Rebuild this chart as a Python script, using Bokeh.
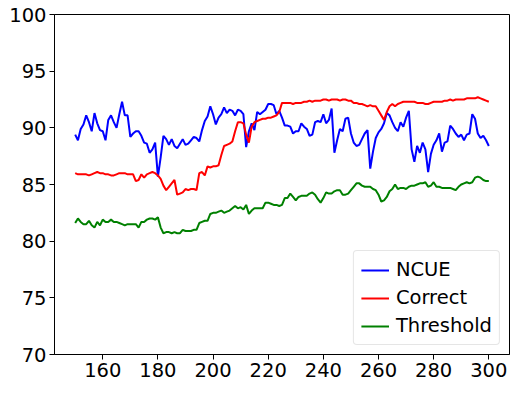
from bokeh.plotting import figure
from bokeh.models import Range1d, FixedTicker, Legend, LegendItem
from bokeh.embed import file_html
from bokeh.resources import INLINE

x_start = 150

ncue = [
    89.4, 88.9, 89.9, 90.3, 91.1, 90.5, 89.7, 91.3, 90.4, 89.8,
    89.7, 88.9, 90.7, 91.1, 90.5, 90.0, 91.2, 92.3, 91.1, 91.1,
    89.2, 89.5, 89.7, 89.7, 89.3, 88.7, 88.6, 87.8, 88.1, 88.7,
    85.7, 87.4, 89.3, 89.0, 88.5, 89.0, 88.4, 88.2, 88.6, 89.0,
    88.5, 88.6, 88.9, 89.2, 89.1, 88.8, 89.8, 90.6, 91.0, 91.9,
    91.2, 90.3, 90.9, 91.2, 91.8, 91.3, 91.6, 91.5, 91.1, 91.6,
    91.5, 91.2, 88.3, 89.7, 90.4, 89.8, 91.4, 91.2, 91.4, 91.6,
    92.1, 92.1, 92.0, 91.2, 91.5, 90.9, 90.2, 90.2, 90.1, 89.5,
    89.7, 89.7, 90.4, 90.1, 89.9, 89.3, 89.4, 90.5, 90.6, 90.5,
    91.2, 90.4, 90.7, 91.7, 87.8, 88.9, 89.9, 89.7, 90.8, 90.9,
    89.5, 88.7, 88.4, 88.5, 89.0, 89.5, 89.8, 86.4, 87.9, 89.1,
    89.6, 89.9, 90.4, 91.3, 91.1, 90.5, 90.0, 89.7, 90.5, 90.1,
    90.9, 91.5, 88.1, 87.0, 88.4, 87.8, 88.7, 88.1, 86.1, 87.7,
    88.5, 88.9, 89.5, 87.9, 88.7, 88.8, 90.2, 89.9, 89.5, 89.2,
    89.4, 88.9, 89.4, 89.5, 91.2, 90.8, 89.5, 89.1, 89.3, 88.9,
    88.4,
]

correct = [
    86.0, 85.9, 85.9, 85.9, 85.9, 85.8, 85.9, 86.0, 86.1, 86.0,
    86.0, 85.9, 85.9, 85.8, 85.8, 85.9, 86.0, 86.0, 86.0, 85.9,
    85.9, 85.9, 85.3, 85.4, 85.9, 85.6, 85.9, 86.0, 86.1, 86.0,
    85.8, 85.5, 84.9, 84.5, 84.8, 85.1, 85.4, 84.1, 84.2, 84.3,
    84.6, 84.5, 84.6, 84.6, 84.5, 86.0, 86.1, 85.8, 86.6, 86.5,
    86.6, 86.6, 86.7, 87.6, 88.4, 88.5, 88.6, 88.8, 89.7, 90.5,
    90.5, 90.4, 89.4, 88.7, 90.1, 90.5, 90.6, 90.7, 90.8, 90.8,
    90.9, 90.9, 91.0, 91.1, 91.4, 92.2, 92.2, 92.2, 92.2, 92.1,
    92.2, 92.2, 92.2, 92.3, 92.3, 92.4, 92.3, 92.4, 92.4, 92.4,
    92.5, 92.5, 92.4, 92.5, 92.5, 92.5, 92.4, 92.5, 92.5, 92.4,
    92.4, 92.2, 92.2, 92.1, 92.1, 92.0, 91.9, 92.0, 91.9, 91.9,
    91.5, 91.1, 90.7, 91.4, 91.9, 92.1, 91.9, 92.1, 92.2, 92.3,
    92.3, 92.3, 92.3, 92.3, 92.2, 92.2, 92.2, 92.1, 92.1, 92.2,
    92.3, 92.3, 92.3, 92.3, 92.4, 92.4, 92.5, 92.4, 92.5, 92.5,
    92.5, 92.5, 92.6, 92.6, 92.6, 92.6, 92.7, 92.6, 92.5, 92.4,
    92.3,
]

threshold = [
    81.6, 82.0, 81.7, 81.5, 81.5, 81.8, 81.4, 81.2, 81.7, 81.4,
    81.9, 81.7, 81.7, 81.9, 81.7, 81.7, 81.6, 81.5, 81.4, 81.5,
    81.5, 81.5, 81.5, 81.2, 81.7, 81.7, 81.9, 82.0, 82.0, 81.9,
    82.1, 81.2, 80.7, 80.8, 80.8, 80.7, 80.8, 80.7, 80.7, 81.0,
    80.9, 80.9, 80.9, 81.0, 81.0, 81.6, 81.7, 81.8, 81.8, 82.4,
    82.5, 82.5, 82.6, 82.7, 82.5, 82.6, 82.7, 82.9, 83.1, 82.9,
    83.0, 82.8, 83.2, 82.4, 82.7, 82.9, 82.9, 82.9, 82.9, 83.4,
    83.4, 83.3, 83.2, 83.2, 83.1, 83.2, 83.8, 83.8, 84.2, 83.9,
    83.6, 83.9, 84.0, 84.0, 84.0, 84.2, 84.3, 84.1, 83.7, 83.4,
    83.8, 84.3, 84.2, 84.2, 84.4, 84.5, 84.5, 84.1, 84.1, 84.2,
    84.5, 84.8, 85.1, 85.1, 84.9, 84.8, 84.8, 84.8, 84.6, 84.5,
    84.1, 83.5, 83.6, 83.9, 84.4, 84.6, 85.0, 84.6, 84.7, 84.7,
    84.6, 84.8, 84.9, 84.9, 85.0, 85.1, 85.1, 85.2, 84.8, 84.9,
    85.2, 84.8, 84.8, 84.7, 84.7, 84.7, 84.7, 84.6, 84.5, 84.8,
    85.0, 85.1, 85.2, 85.1, 85.2, 85.6, 85.7, 85.6, 85.4, 85.3,
    85.3,
]

x_ticks = [160, 180, 200, 220, 240, 260, 280, 300]
y_ticks = [70, 75, 80, 85, 90, 95, 100]
series_names = ["NCUE", "Correct", "Threshold"]
series_colors = ["#0000ff", "#ff0000", "#008000"]

FONT = "DejaVu Sans"

p = figure(width=511, height=384, output_backend="svg", toolbar_location=None,
           x_range=Range1d(142.5, 307.5), y_range=Range1d(70, 100),
           min_border_left=54, min_border_right=2, min_border_top=14, min_border_bottom=30)
p.background_fill_color = "white"
p.border_fill_color = "white"
p.outline_line_color = "black"
p.outline_line_width = 1
p.xgrid.visible = False
p.ygrid.visible = False

for ax, ticks in ((p.xaxis, x_ticks), (p.yaxis, y_ticks)):
    ax.ticker = FixedTicker(ticks=ticks)
    ax.axis_line_color = "black"
    ax.major_tick_line_color = "black"
    ax.major_tick_out = 5
    ax.major_tick_in = 0
    ax.minor_tick_line_color = None
    ax.major_label_text_font = FONT
    ax.major_label_text_font_size = "19.5px"
    ax.major_label_text_color = "black"
    ax.major_label_standoff = 3

items = []
for name, ys, col in zip(series_names, [ncue, correct, threshold], series_colors):
    xs = list(range(x_start, x_start + len(ys)))
    r = p.line(xs, ys, line_color=col, line_width=2)
    items.append(LegendItem(label=name, renderers=[r]))

legend = Legend(items=items, location="bottom_right")
legend.label_text_font = FONT
legend.label_text_font_size = "19.5px"
legend.label_text_color = "black"
legend.label_height = 22
legend.glyph_height = 22
legend.glyph_width = 28
legend.label_standoff = 7
legend.spacing = 5
legend.padding = 7
legend.margin = 9
legend.border_line_color = "#cccccc"
legend.border_line_width = 1
legend.border_radius = 4
legend.background_fill_alpha = 0.85
p.add_layout(legend)

open("out.html", "w").write(file_html(p, INLINE))
